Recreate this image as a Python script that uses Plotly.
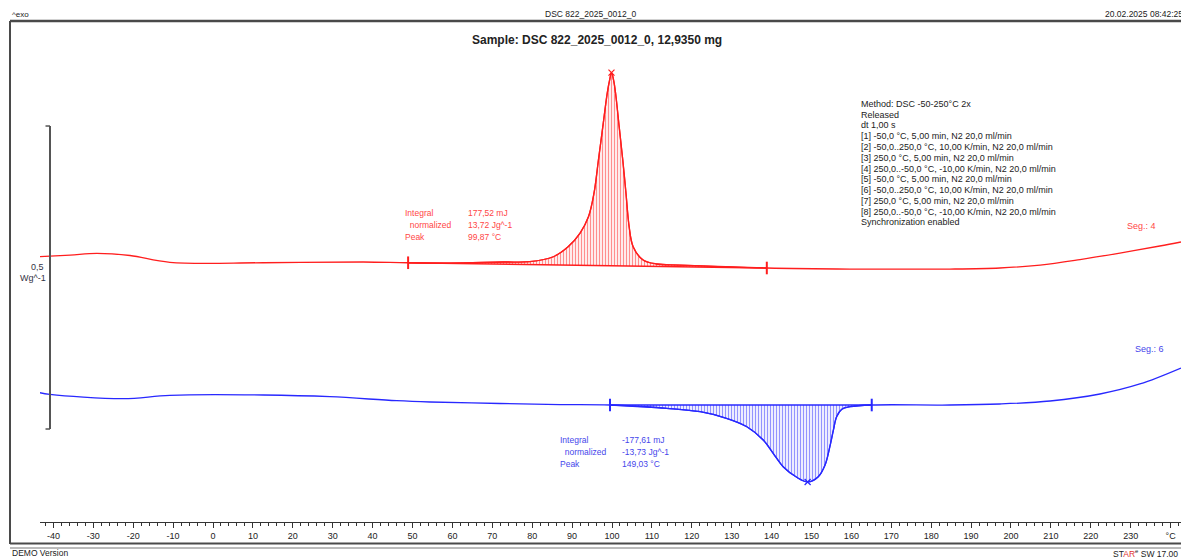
import numpy as np
import plotly.graph_objects as go

# ---------------- data (temperature in °C, heat flow in W/g incl. display offset) ----------------
seg4_temp = [-43.4, -35.8, -29.1, -20.8, -10.8, 12.5, 37.6, 48.6, 59.4, 72.7, 79.4, 85.3, 89.0,
             92.0, 94.1, 95.5, 96.6, 97.7, 98.8, 99.4, 99.87, 100.4, 100.9, 101.8, 102.7, 103.5,
             104.3, 105.3, 107.8, 111.2, 117.0, 138.8, 159.6, 184.7, 197.2, 207.3, 217.3, 227.3,
             237.3, 242.6]
seg4_heatflow = [0.4361, 0.4389, 0.4417, 0.4381, 0.4269, 0.4262, 0.4274, 0.4262, 0.4257, 0.4274,
                 0.4279, 0.4361, 0.4526, 0.4752, 0.5021, 0.5413, 0.5957, 0.6507, 0.7058, 0.7277,
                 0.7398, 0.7277, 0.7058, 0.6507, 0.5957, 0.5413, 0.4856, 0.4526, 0.4307, 0.4241,
                 0.4224, 0.4175, 0.4158, 0.4158, 0.4175, 0.4224, 0.4315, 0.4422, 0.4538, 0.4604]

seg6_temp = [-43.4, -40.9, -22.5, -10.8, 12.6, 29.3, 46.0, 54.4, 71.9, 87.0, 99.5, 113.7, 122.1,
             128.7, 133.8, 137.9, 140.4, 142.9, 146.3, 149.03, 151.7, 153.4, 154.6, 155.5, 156.3,
             157.6, 159.7, 165.1, 184.7, 197.2, 209.8, 222.3, 232.3, 242.6]
seg6_heatflow = [0.2117, 0.2091, 0.2018, 0.2074, 0.2079, 0.2051, 0.1985, 0.1964, 0.1939, 0.1922,
                 0.1914, 0.1860, 0.1804, 0.1695, 0.1556, 0.1337, 0.1117, 0.0896, 0.0721, 0.0644,
                 0.0731, 0.0924, 0.1226, 0.1502, 0.1721, 0.1843, 0.1886, 0.1914, 0.1914, 0.1931,
                 0.1980, 0.2096, 0.2261, 0.2525]

seg4_limits = [48.9, 138.8]
seg6_limits = [99.5, 165.1]
seg4_peak = 99.87
seg6_peak = 149.03

tick_values = list(range(-40, 241, 10))
tick_labels = [str(v) for v in range(-40, 231, 10)] + ["°C"]

method_lines = [
    "Method: DSC -50-250°C 2x",
    "Released",
    "dt 1,00 s",
    "[1] -50,0 °C, 5,00 min, N2 20,0 ml/min",
    "[2] -50,0..250,0 °C, 10,00 K/min, N2 20,0 ml/min",
    "[3] 250,0 °C, 5,00 min, N2 20,0 ml/min",
    "[4] 250,0..-50,0 °C, -10,00 K/min, N2 20,0 ml/min",
    "[5] -50,0 °C, 5,00 min, N2 20,0 ml/min",
    "[6] -50,0..250,0 °C, 10,00 K/min, N2 20,0 ml/min",
    "[7] 250,0 °C, 5,00 min, N2 20,0 ml/min",
    "[8] 250,0..-50,0 °C, -10,00 K/min, N2 20,0 ml/min",
    "Synchronization enabled",
]
seg4_result_labels = ["Integral", "  normalized", "Peak"]
seg4_result_values = ["177,52 mJ", "13,72 Jg^-1", "99,87 °C"]
seg6_result_values = ["-177,61 mJ", "-13,73 Jg^-1", "149,03 °C"]

# ---------------- geometry ----------------
W, H = 1181, 557
L, R, T, B = 40, 0, 21, 35
PW, PH = W - L - R, H - T - B
X_RANGE = [-43.36, 242.61]
Y_RANGE = [-0.00165, 0.8251]

def px(xp):
    return (xp - L) / PW

def py(yp):
    return (H - B - yp) / PH

RED = "rgb(255,30,30)"
BLUE = "rgb(40,40,255)"
RED_TXT = "rgb(255,70,70)"
BLUE_TXT = "rgb(70,70,235)"
FONT = "Liberation Sans"

fig = go.Figure()

def add_segment(temp, hf, limits, peak, color):
    t = np.array(temp)
    h = np.array(hf)
    fig.add_trace(go.Scatter(x=t, y=h, mode="lines", line=dict(color=color, width=1.3),
                             line_shape="spline", hoverinfo="skip", showlegend=False))
    t0, t1 = limits
    h0, h1 = np.interp(t0, t, h), np.interp(t1, t, h)
    fig.add_trace(go.Scatter(x=[t0, t1], y=[h0, h1], mode="lines",
                             line=dict(color=color, width=1.6), showlegend=False, hoverinfo="skip"))
    inner = (t > t0) & (t < t1)
    fx = np.concatenate([[t0], t[inner], [t1]])
    fy = np.concatenate([[h0], h[inner], [h1]])
    fig.add_trace(go.Scatter(x=fx, y=fy, mode="lines", line=dict(color=color, width=1.3),
                             line_shape="spline", fill="tonexty", fillcolor="rgba(0,0,0,0)",
                             fillpattern=dict(shape="|", fgcolor=color, size=3, solidity=0.45,
                                              bgcolor="rgba(255,255,255,0)"),
                             showlegend=False, hoverinfo="skip"))
    fig.add_trace(go.Scatter(x=[t0, t1], y=[h0, h1], mode="markers",
                             marker=dict(symbol="line-ns", size=9, line=dict(color=color, width=2)),
                             showlegend=False, hoverinfo="skip"))
    fig.add_trace(go.Scatter(x=[peak], y=[np.interp(peak, t, h)], mode="markers",
                             marker=dict(symbol="x-thin", size=6, line=dict(color=color, width=1.2)),
                             showlegend=False, hoverinfo="skip"))

add_segment(seg4_temp, seg4_heatflow, seg4_limits, seg4_peak, RED)
add_segment(seg6_temp, seg6_heatflow, seg6_limits, seg6_peak, BLUE)

fig.update_xaxes(range=X_RANGE, tickmode="array", tickvals=tick_values, ticktext=tick_labels,
                 ticks="outside", ticklen=5, tickwidth=1, tickcolor="#333",
                 showline=True, linecolor="#333", linewidth=1, showgrid=False, zeroline=False,
                 tickfont=dict(family=FONT, size=9, color="#222"),
                 minor=dict(dtick=2, tick0=0, ticks="outside", ticklen=3, tickcolor="#333", showgrid=False))
fig.update_yaxes(range=Y_RANGE, visible=False, showgrid=False, zeroline=False)

shapes = []
FR = "#4a4a4a"
shapes.append(dict(type="line", xref="paper", yref="paper", x0=px(10), x1=px(1181), y0=py(21), y1=py(21),
                   line=dict(color=FR, width=2.5)))
shapes.append(dict(type="line", xref="paper", yref="paper", x0=px(10), x1=px(10), y0=py(21), y1=py(544),
                   line=dict(color=FR, width=2)))
shapes.append(dict(type="line", xref="paper", yref="paper", x0=px(10), x1=px(1181), y0=py(543.5), y1=py(543.5),
                   line=dict(color=FR, width=2)))
shapes.append(dict(type="line", xref="paper", yref="paper", x0=px(10), x1=px(1181), y0=py(548), y1=py(548),
                   line=dict(color="#777", width=1)))
sb_bottom = 0.1518
sb_top = sb_bottom + 0.5
SB = "#555"
shapes.append(dict(type="line", xref="paper", yref="y", x0=px(50), x1=px(50), y0=sb_bottom, y1=sb_top,
                   line=dict(color=SB, width=2)))
for yv in (sb_bottom, sb_top):
    shapes.append(dict(type="line", xref="paper", yref="y", x0=px(45.5), x1=px(50), y0=yv, y1=yv,
                       line=dict(color=SB, width=1.5)))

ann = []
def text(xp, yp, s, color="#222", size=8.5, anchor="left", bold=False):
    ann.append(dict(x=px(xp), y=py(yp), xref="paper", yref="paper", text=f"<b>{s}</b>" if bold else s,
                    showarrow=False, xanchor=anchor, yanchor="middle",
                    font=dict(family=FONT, size=size, color=color)))

text(10, 14, "^exo", size=8)
text(590, 14, "DSC 822_2025_0012_0", size=8.5, anchor="center")
text(1103, 14, "20.02.2025 08:42:25", size=8.5)
text(597, 40, "Sample: DSC 822_2025_0012_0, 12,9350 mg", size=12, anchor="center", bold=True)
text(46, 267, "0,5", size=9, color="#334", anchor="right")
text(48, 278, "Wg^-1", size=9, color="#334", anchor="right")
for i, line in enumerate(method_lines):
    text(859, 104 + i * 10.75, line, size=9)
for i, (lab, val) in enumerate(zip(seg4_result_labels, seg4_result_values)):
    yy = 213 + i * 12
    text(403, yy, lab.replace(" ", "&nbsp;"), color=RED_TXT)
    text(466, yy, val, color=RED_TXT)
for i, (lab, val) in enumerate(zip(seg4_result_labels, seg6_result_values)):
    yy = 440 + i * 12
    text(558, yy, lab.replace(" ", "&nbsp;"), color=BLUE_TXT)
    text(620, yy, val, color=BLUE_TXT)
text(1125, 226, "Seg.: 4", color=RED_TXT, size=9)
text(1133, 349, "Seg.: 6", color=BLUE_TXT, size=9)
text(10, 553, "DEMO Version", size=8.5)
text(1111, 553, "ST<span style='color:#e03030'>AR</span><sup>e</sup> SW 17.00", size=8.5)

fig.update_layout(width=W, height=H, margin=dict(l=L, r=R, t=T, b=B, pad=0),
                  paper_bgcolor="white", plot_bgcolor="white", shapes=shapes, annotations=ann,
                  showlegend=False, hovermode=False)

fig.write_html("out.html", config={"displayModeBar": False, "staticPlot": True},
               post_script="document.body.style.margin='0';document.body.style.overflow='hidden';")
